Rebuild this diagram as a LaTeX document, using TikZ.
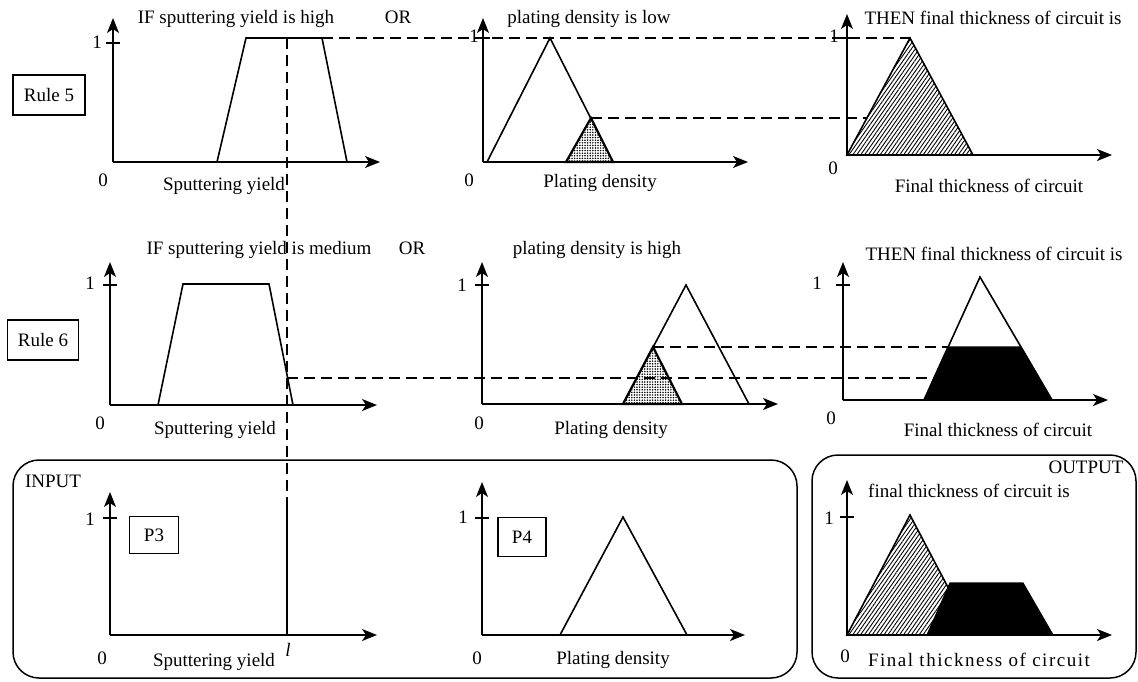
\documentclass[tikz,border=0pt]{standalone}
\usepackage{fontspec}
\setmainfont{Liberation Serif}
\usetikzlibrary{arrows.meta,patterns.meta}

\tikzset{
  axisline/.style={line width=1.6pt,-{Stealth[length=15pt,width=12pt,inset=4pt]}},
  unittick/.style={line width=1.6pt},
  memb/.style={line width=1.6pt,line join=miter},
  guide/.style={line width=1.5pt,dash pattern=on 11pt off 6pt},
  lbl/.style={inner sep=0pt,text height=13pt,text depth=4pt},
  tag/.style={draw,line width=1.3pt,inner sep=0pt},
  panel/.style={draw,line width=1.5pt,rounded corners=26pt},
  dotfill/.style={line width=2.2pt,line join=miter,pattern={Dots[distance=2.6pt,radius=0.85pt]}},
  hatchfill/.style={line width=1.6pt,line join=miter,pattern={Lines[angle=55,distance=3.2pt,line width=0.9pt]}},
  blackfill/.style={fill=black,draw=black,line width=1.2pt,line join=miter}
}

% origin name, x0, y0, x tip, y tip, y of the unit tick
\newcommand{\plotaxes}[6]{%
  \coordinate (#1) at (#2,#3);
  \draw[axisline] (#1) -- (#4,#3);
  \draw[axisline] (#1) -- (#2,#5);
  \draw[unittick] (#2-7,#6) -- (#2+7,#6);
}

\begin{document}
\begin{tikzpicture}[x=1pt,y=-1pt,font=\fontsize{19}{23}\selectfont]
\useasboundingbox (0,0) rectangle (1138,681);

% ---- Rule 5
\node[tag,minimum width=72pt,minimum height=40pt] (rule5) at (49,95) {Rule 5};
\node[lbl] (if5) at (236,19) {IF sputtering yield is high};
\node[lbl] (or5) at (398,19) {OR};
\node[lbl] (pd5) at (589,19) {plating density is low};
\node[lbl] (then5) at (993,20) {THEN final thickness of circuit is};

\plotaxes{oA1}{113}{162}{380}{18}{43}
\node[lbl] (oneA1) at (97,44) {1};
\node[lbl] (zeroA1) at (103,182) {0};
\node[lbl] (xA1) at (224,186) {Sputtering yield};
\draw[memb] (217,162) -- (246,38) -- (322,38) -- (347,162);

\plotaxes{oB1}{483}{162}{748}{18}{38}
\node[lbl] (oneB1) at (474,38) {1};
\node[lbl] (zeroB1) at (469,182) {0};
\node[lbl] (xB1) at (600,183) {Plating density};
\draw[memb] (487,162) -- (550,38) -- (613,162);
\filldraw[dotfill] (566,162) -- (591,118) -- (613,162) -- cycle;

\plotaxes{oC1}{847}{155}{1112}{14}{38}
\node[lbl] (oneC1) at (834,38) {1};
\node[lbl] (zeroC1) at (833,170) {0};
\node[lbl] (xC1) at (989,188) {Final thickness of circuit};
\filldraw[hatchfill] (847,155) -- (910,38) -- (973,155) -- cycle;

% ---- Rule 6
\node[tag,minimum width=71pt,minimum height=40pt] (rule6) at (43,340) {Rule 6};
\node[lbl] (if6) at (259,250) {IF sputtering yield is medium};
\node[lbl] (or6) at (412,250) {OR};
\node[lbl] (pd6) at (597,250) {plating density is high};
\node[lbl] (then6) at (994,256) {THEN final thickness of circuit is};

\plotaxes{oA2}{110}{405}{377}{262}{285}
\node[lbl] (oneA2) at (90,285) {1};
\node[lbl] (zeroA2) at (100,425) {0};
\node[lbl] (xA2) at (215,430) {Sputtering yield};
\draw[memb] (158,405) -- (183,284) -- (269,284) -- (293,405);

\plotaxes{oB2}{482}{404}{778}{262}{285}
\node[lbl] (oneB2) at (462,287) {1};
\node[lbl] (zeroB2) at (479,425) {0};
\node[lbl] (xB2) at (611,430) {Plating density};
\draw[memb] (623,404) -- (686,285) -- (749,404);
\filldraw[dotfill] (623,404) -- (653,347) -- (682,404) -- cycle;

\plotaxes{oC2}{843}{400}{1108}{262}{285}
\node[lbl] (oneC2) at (817,285) {1};
\node[lbl] (zeroC2) at (831,420) {0};
\node[lbl] (xC2) at (998,432) {Final thickness of circuit};
\filldraw[blackfill] (924,400) -- (948,347) -- (1021,347) -- (1052,400) -- cycle;
\draw[memb] (924,400) -- (980,277) -- (1052,400);

% ---- inputs and output
\draw[panel] (13,460) rectangle (797,678);
\draw[panel] (812,455) rectangle (1136,678);
\node[lbl] (input) at (53,483) {INPUT};
\node[lbl] (output) at (1086,469) {OUTPUT};
\node[lbl] (outtitle) at (969,493) {final thickness of circuit is};

\plotaxes{oA3}{110}{635}{377}{492}{518}
\node[lbl] (oneA3) at (90,521) {1};
\node[lbl] (zeroA3) at (102,660) {0};
\node[lbl] (xA3) at (214,662) {Sputtering yield};
\node[lbl] (inval) at (288,652) {\textit{l}};
\node[tag,minimum width=49pt,minimum height=37pt] (p3) at (154,535) {P3};

\plotaxes{oB3}{482}{635}{745}{482}{518}
\node[lbl] (oneB3) at (463,519) {1};
\node[lbl] (zeroB3) at (477,660) {0};
\node[lbl] (xB3) at (613,660) {Plating density};
\node[tag,minimum width=48pt,minimum height=39pt] (p4) at (522,537) {P4};
\draw[memb] (560,635) -- (623,517) -- (687,635);

\plotaxes{oC3}{847}{635}{1112}{480}{517}
\node[lbl] (oneC3) at (829,520) {1};
\node[lbl] (zeroC3) at (845,658) {0};
\node[lbl,font=\fontsize{19}{23}\selectfont\addfontfeature{LetterSpace=8}] (xC3) at (979,662) {Final thickness of circuit};
\filldraw[hatchfill] (847,635) -- (910,515) -- (973,635) -- cycle;
\filldraw[blackfill] (927,635) -- (950,583) -- (1023,583) -- (1053,635) -- cycle;

% ---- guide lines
\coordinate (cut) at (287,38);
\coordinate (cutin) at (287,505);
\coordinate (cutval) at (287,635);
\coordinate (hightop) at (322,38);
\coordinate (outtop) at (910,38);
\coordinate (lowcut) at (591,118);
\coordinate (outlow) at (867,118);
\coordinate (medcut) at (287,378);
\coordinate (outmed) at (934,378);
\coordinate (highcut) at (653,347);
\coordinate (outhigh) at (948,347);
\draw[guide] (cut) -- (cutin);
\draw[memb] (cutin) -- (cutval);
\draw[guide] (hightop) -- (outtop);
\draw[guide] (lowcut) -- (outlow);
\draw[guide] (medcut) -- (outmed);
\draw[guide] (highcut) -- (outhigh);
\end{tikzpicture}
\end{document}
